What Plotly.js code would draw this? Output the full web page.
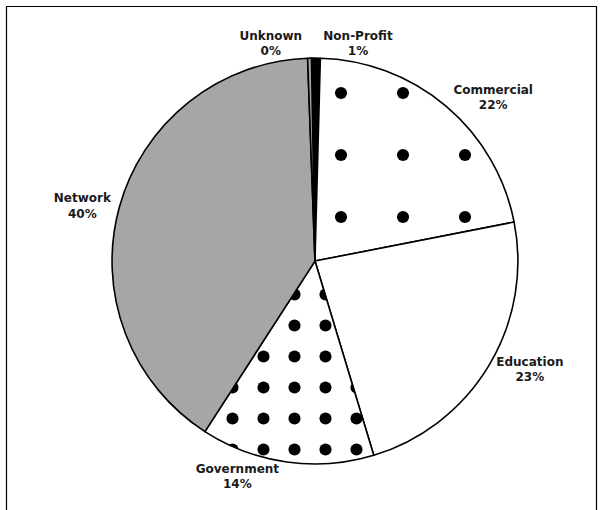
<!DOCTYPE html>
<html>
<head>
<meta charset="utf-8">
<script src="https://cdn.plot.ly/plotly-3.0.1.min.js"></script>
<style>html,body{margin:0;padding:0;background:#fff;}#chart{width:603px;height:510px;}</style>
</head>
<body>
<div id="chart"></div>
<script>
// Sector categories (clockwise from 12 o'clock)
const categories = ["Non-Profit", "Commercial", "Education", "Government", "Network", "Unknown"];
// Share of hosts, percent
const shares = [0.7, 21.5, 23.4, 13.8, 40.3, 0.3];

const sliceColors = ["#000000", "#ffffff", "#ffffff", "#ffffff", "#a6a6a6", "#a6a6a6"];
const patternShapes = ["", ".", "", ".", "", ""];
const patternSizes = [10, 62, 10, 31, 10, 10];
const patternSolidity = [0.1, 0.03, 0.1, 0.12, 0.1, 0.1];

const trace = {
  type: "pie",
  labels: categories,
  values: shares,
  sort: false,
  direction: "clockwise",
  rotation: -1,
  marker: {
    colors: sliceColors,
    line: {color: "#000000", width: 1.6},
    pattern: {
      shape: patternShapes,
      size: patternSizes,
      solidity: patternSolidity,
      fgcolor: "#000000",
      bgcolor: "#ffffff",
      fillmode: "replace"
    }
  },
  textposition: "outside",
  texttemplate: "%{label}<br>%{percent:.0%}",
  textfont: {family: "DejaVu Sans, Verdana, sans-serif", size: 12, color: "#1a1a1a", weight: "bold"},
  hoverinfo: "none",
  domain: {x: [0.1857, 0.859], y: [0.0902, 0.886]},
  showlegend: false
};

const layout = {
  width: 603,
  height: 510,
  margin: {l: 0, r: 0, t: 0, b: 0},
  paper_bgcolor: "#ffffff",
  plot_bgcolor: "#ffffff",
  showlegend: false,
  shapes: [
    {type: "rect", xref: "paper", yref: "paper", x0: 6.5/603, x1: 596.5/603, y0: -0.02, y1: 1 - 6.5/510,
     line: {color: "#000000", width: 1.2}, fillcolor: "rgba(0,0,0,0)"}
  ]
};

Plotly.newPlot("chart", [trace], layout, {staticPlot: true, displayModeBar: false});
</script>
</body>
</html>
